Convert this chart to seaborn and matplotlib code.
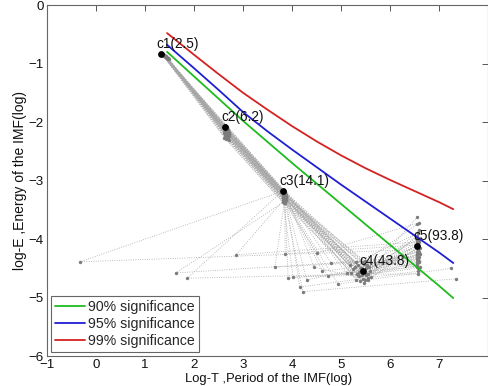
import numpy as np
import pandas as pd
import matplotlib
matplotlib.use("Agg")
import matplotlib.pyplot as plt
import seaborn as sns

# ---- mean IMF positions (period in samples, log energy) ----
imf_names = ["c1", "c2", "c3", "c4", "c5"]
imf_periods = [2.5, 6.2, 14.1, 43.8, 93.8]
imf_energy = [-0.83, -2.08, -3.18, -4.55, -4.12]

# ---- individual ensemble trials: log-period / log-energy of IMF1..IMF5 ----
c1_x = [1.33, 1.36, 1.38, 1.41, 1.35, 1.44, 1.37, 1.40, 1.46, 1.34, 1.39, 1.42, 1.36, 1.48, 1.38, 1.43,
        1.35, 1.40, 1.37, 1.45, 1.34, 1.41, 1.39, 1.47, 1.36, 1.42, 1.38, 1.44, 1.35, 1.40, 1.37, 1.43,
        1.33, 1.46, 1.39, 1.41, 1.36, 1.44, 1.38, 1.42, 1.34, 1.40, 1.37, 1.45, 1.35, 1.43, 1.39, 1.41]
c1_y = [-0.83, -0.85, -0.86, -0.88, -0.84, -0.90, -0.86, -0.87, -0.91, -0.84, -0.87, -0.89, -0.85, -0.92, -0.86, -0.89,
        -0.84, -0.88, -0.85, -0.90, -0.83, -0.88, -0.86, -0.91, -0.85, -0.89, -0.86, -0.90, -0.84, -0.87, -0.85, -0.89,
        -0.83, -0.91, -0.87, -0.88, -0.85, -0.90, -0.86, -0.88, -0.84, -0.87, -0.85, -0.91, -0.84, -0.89, -0.86, -0.88]
c2_x = [2.62, 2.65, 2.63, 2.68, 2.62, 2.70, 2.64, 2.66, 2.72, 2.63, 2.66, 2.68, 2.64, 2.71, 2.64, 2.67,
        2.63, 2.66, 2.63, 2.69, 2.62, 2.67, 2.65, 2.70, 2.63, 2.68, 2.64, 2.69, 2.62, 2.67, 2.64, 2.69,
        2.63, 2.71, 2.65, 2.66, 2.63, 2.70, 2.65, 2.68, 2.63, 2.66, 2.64, 2.72, 2.63, 2.68, 2.65, 2.67]
c2_y = [-2.08, -2.15, -2.20, -2.12, -2.10, -2.22, -2.05, -2.25, -2.18, -2.13, -2.09, -2.28, -2.17, -2.30, -2.11, -2.19,
        -2.23, -2.06, -2.14, -2.16, -2.27, -2.10, -2.21, -2.13, -2.16, -2.24, -2.12, -2.19, -2.18, -2.14, -2.09, -2.26,
        -2.07, -2.21, -2.29, -2.11, -2.20, -2.15, -2.17, -2.08, -2.25, -2.18, -2.12, -2.24, -2.15, -2.20, -2.13, -2.22]
c3_x = [3.81, 3.84, 3.82, 3.85, 3.81, 3.87, 3.83, 3.85, 3.88, 3.82, 3.84, 3.86, 3.82, 3.87, 3.83, 3.85,
        3.81, 3.84, 3.83, 3.86, 3.81, 3.85, 3.83, 3.87, 3.82, 3.85, 3.83, 3.86, 3.81, 3.84, 3.82, 3.86,
        3.82, 3.87, 3.84, 3.85, 3.82, 3.86, 3.83, 3.85, 3.82, 3.84, 3.83, 3.88, 3.82, 3.85, 3.84, 3.85]
c3_y = [-3.18, -3.24, -3.30, -3.21, -3.20, -3.33, -3.16, -3.36, -3.26, -3.22, -3.19, -3.38, -3.27, -3.31, -3.23, -3.28,
        -3.34, -3.17, -3.25, -3.22, -3.37, -3.20, -3.29, -3.24, -3.26, -3.32, -3.21, -3.27, -3.28, -3.23, -3.18, -3.35,
        -3.17, -3.29, -3.39, -3.22, -3.31, -3.25, -3.26, -3.19, -3.33, -3.27, -3.22, -3.34, -3.24, -3.30, -3.21, -3.31]
c4_x = [5.45, 5.40, 5.50, 5.35, 5.55, 5.30, 5.48, 5.42, 5.58, 5.25, 5.52, 5.38, 5.46, 5.33, 5.60, 5.44,
        5.28, 5.50, 5.20, 5.36, 5.47, 5.53, 5.41, 5.31, 5.56, 5.18, 5.43, 5.49, 5.37, 5.62,
        -0.33, 1.63, 1.86, 2.86, 3.65, 3.92, 4.02, 4.16, 4.22, 4.45, 4.51, 4.73, 4.80, 4.94, 5.12, 3.86,
        4.30, 4.62]
c4_y = [-4.55, -4.50, -4.62, -4.45, -4.66, -4.40, -4.70, -4.58, -4.48, -4.52, -4.60, -4.72, -4.42, -4.60, -4.55, -4.68,
        -4.48, -4.50, -4.58, -4.64, -4.75, -4.44, -4.53, -4.70, -4.60, -4.45, -4.62, -4.38, -4.56, -4.65,
        -4.39, -4.58, -4.67, -4.27, -4.48, -4.67, -4.65, -4.82, -4.90, -4.48, -4.24, -4.63, -4.41, -4.77, -4.58, -4.25,
        -4.70, -4.55]
c5_x = [6.56, 6.58, 6.55, 6.60, 6.54, 6.57, 6.59, 6.56, 6.61, 6.55, 6.58, 6.53, 6.60, 6.57, 6.62, 6.56,
        6.59, 6.54, 6.57, 6.55, 6.58, 6.60, 6.56, 6.53, 6.59, 6.57, 6.55, 6.61, 6.56, 6.58,
        6.58, 6.55, 5.50, 6.60, 5.45, 6.56, 5.35, 6.58, 7.35, 5.55, 6.60, 6.55, 6.57, 7.25, 6.56, 6.57,
        5.40, 6.54]
c5_y = [-4.12, -4.20, -4.05, -4.30, -3.95, -4.35, -3.85, -4.42, -4.25, -3.75, -4.50, -4.10, -4.00, -4.60, -4.15, -3.62,
        -4.38, -4.28, -4.18, -4.45, -4.08, -4.22, -4.33, -3.98, -4.40, -3.90, -4.26, -4.48, -4.02, -4.14,
        -4.18, -4.32, -4.60, -4.05, -4.40, -4.48, -4.62, -4.55, -4.68, -4.70, -3.72, -4.40, -4.30, -4.50, -4.22, -4.10,
        -4.50, -4.36]

# ---- significance curves (log-period, log-energy) ----
sig_x = [1.45, 2.0, 2.5, 3.0, 3.5, 4.0, 4.5, 5.0, 5.5, 6.0, 6.5, 7.0, 7.29]
sig90_y = [-0.80, -1.22, -1.60, -1.98, -2.34, -2.70, -3.05, -3.40, -3.75, -4.10, -4.45, -4.80, -5.01]
sig95_y = [-0.68, -1.08, -1.45, -1.83, -2.16, -2.47, -2.77, -3.07, -3.36, -3.65, -3.94, -4.23, -4.41]
sig99_y = [-0.48, -0.85, -1.18, -1.50, -1.79, -2.07, -2.33, -2.57, -2.79, -2.99, -3.18, -3.37, -3.49]
sig_labels = ["90% significance", "95% significance", "99% significance"]
sig_colors = ["#1fbb1f", "#1f1fd2", "#d42222"]

sns.set_theme(style="white")
plt.rcParams["font.family"] = ["Liberation Sans", "DejaVu Sans"]

fig = plt.figure(figsize=(4.89, 3.86), dpi=100)
ax = fig.add_axes([0.0961, 0.0777, 0.902, 0.9093])

# long table of all trials, one row per IMF of each trial
xs = [c1_x, c2_x, c3_x, c4_x, c5_x]
ys = [c1_y, c2_y, c3_y, c4_y, c5_y]
rows = []
for k in range(5):
    for t in range(len(c1_x)):
        rows.append({"trial": t, "imf": k, "logT": xs[k][t], "logE": ys[k][t]})
trials = pd.DataFrame(rows).sort_values(["trial", "imf"])

sns.lineplot(data=trials, x="logT", y="logE", units="trial", estimator=None, sort=False,
             color="#a6a6a6", linewidth=0.6, linestyle=(0, (1, 1.8)), ax=ax, zorder=1)
sns.scatterplot(data=trials, x="logT", y="logE", color="#7c7c7c", s=6, linewidth=0,
                ax=ax, zorder=2, legend=False)

sig = pd.DataFrame({"logT": sig_x * 3,
                    "logE": sig90_y + sig95_y + sig99_y,
                    "level": [sig_labels[0]] * len(sig_x) + [sig_labels[1]] * len(sig_x)
                    + [sig_labels[2]] * len(sig_x)})
sns.lineplot(data=sig, x="logT", y="logE", hue="level", palette=dict(zip(sig_labels, sig_colors)),
             linewidth=1.3, sort=False, ax=ax, zorder=3)

means = pd.DataFrame({"logT": np.log2(imf_periods), "logE": imf_energy, "name": imf_names})
sns.scatterplot(data=means, x="logT", y="logE", color="black", s=24, linewidth=0, ax=ax,
                zorder=4, legend=False)
for _, r in means.iterrows():
    per = imf_periods[imf_names.index(r["name"])]
    ax.annotate(f"{r['name']}({per})", (r["logT"], r["logE"]), xytext=(-4, 10),
                textcoords="offset pixels", ha="left", va="center", fontsize=9.8,
                color="#111111", zorder=5)

ax.set_xlim(-1, 8)
ax.set_ylim(-6, 0)
ax.set_xticks(range(-1, 8))
ax.set_yticks(range(-6, 1))
ax.tick_params(direction="in", length=4, width=0.7, color="#555555", labelsize=9.6,
               top=True, right=True, pad=2.5, labelcolor="#111111")
for s in ax.spines.values():
    s.set_color("#666666")
    s.set_linewidth(0.8)
ax.set_xlabel("Log-T ,Period of the IMF(log)", fontsize=9.4, color="#111111", va="top")
ax.xaxis.set_label_coords(0.502, -0.0495)
ax.set_ylabel("log-E ,Energy of the IMF(log)", fontsize=10, labelpad=1, color="#111111")

handles, labels = ax.get_legend_handles_labels()
leg = ax.legend(handles, labels, loc="lower left", bbox_to_anchor=(0.009, 0.011),
                borderaxespad=0, fontsize=10.2, frameon=True, fancybox=False, framealpha=1,
                handlelength=2.1, handletextpad=0.2, labelspacing=0.2, borderpad=0.3)
leg.get_frame().set_edgecolor("#666666")
leg.get_frame().set_linewidth(0.8)

fig.savefig("out.png", dpi=100)
